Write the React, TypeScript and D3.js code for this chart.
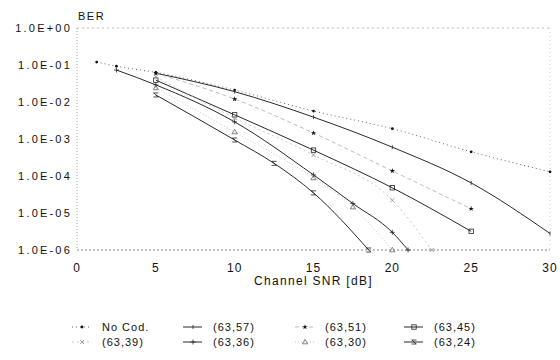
import * as d3 from "d3";

const WIDTH = 560;
const HEIGHT = 360;
const FONT = "'Liberation Sans', Arial, Helvetica, sans-serif";

// plot frame (pixels)
const X0 = 77;
const X1 = 550;
const Y0 = 250;
const Y1 = 28;

const xTicks = [0, 5, 10, 15, 20, 25, 30];
const yTicks = [1, 1e-1, 1e-2, 1e-3, 1e-4, 1e-5, 1e-6];
const yTickLabels = ["1.0E+00", "1.0E-01", "1.0E-02", "1.0E-03", "1.0E-04", "1.0E-05", "1.0E-06"];

const seriesNames = ["No Cod.", "(63,57)", "(63,51)", "(63,45)", "(63,39)", "(63,36)", "(63,30)", "(63,24)"];

// values (SNR in dB, BER)
const noCodSnr = [1.25, 2.5, 5, 10, 15, 20, 25, 30];
const noCodBer = [0.12, 0.093, 0.063, 0.021, 5.7e-3, 1.9e-3, 4.5e-4, 1.3e-4];

const c57Snr = [5, 10, 15, 20, 25, 30];
const c57Ber = [0.06, 0.019, 3.9e-3, 6e-4, 6.5e-5, 2.8e-6];

const c51Snr = [5, 10, 15, 20, 25];
const c51Ber = [0.06, 0.012, 1.45e-3, 1.37e-4, 1.3e-5];

const c45Snr = [5, 10, 15, 20, 25];
const c45Ber = [0.039, 4.5e-3, 5e-4, 4.8e-5, 3.2e-6];

const c39Snr = [5, 10, 15, 20, 22.5];
const c39Ber = [0.048, 3.7e-3, 3.7e-4, 2.2e-5, 1e-6];

const c36Snr = [2.5, 5, 10, 15, 17.5, 20, 21];
const c36Ber = [0.073, 0.029, 2.9e-3, 1.07e-4, 1.8e-5, 3e-6, 1e-6];

const c30Snr = [5, 10, 15, 17.5, 20];
const c30Ber = [0.024, 1.55e-3, 8.9e-5, 1.45e-5, 1e-6];

const c24Snr = [5, 10, 12.5, 15, 18.5];
const c24Ber = [0.0155, 9.4e-4, 2.2e-4, 3.5e-5, 1e-6];

const seriesSnr = [noCodSnr, c57Snr, c51Snr, c45Snr, c39Snr, c36Snr, c30Snr, c24Snr];
const seriesBer = [noCodBer, c57Ber, c51Ber, c45Ber, c39Ber, c36Ber, c30Ber, c24Ber];

// drawing style per series (same order as names)
const styles = [
  { stroke: "#555", dash: "1,3", width: 0.9, marker: "dot" },
  { stroke: "#111", dash: null, width: 0.9, marker: "tick" },
  { stroke: "#aaa", dash: "4,3", width: 0.8, marker: "star" },
  { stroke: "#111", dash: null, width: 0.9, marker: "square" },
  { stroke: "#bbb", dash: "2,3", width: 0.8, marker: "xmark" },
  { stroke: "#111", dash: null, width: 0.9, marker: "cross" },
  { stroke: "#bbb", dash: "1,2", width: 0.8, marker: "triangle" },
  { stroke: "#111", dash: null, width: 0.9, marker: "boxx" },
];

function Marker({ kind, x, y }: { kind: string; x: number; y: number }) {
  const s = 2.2;
  const common = { fill: "none", stroke: "#222", strokeWidth: 0.8 };
  switch (kind) {
    case "dot":
      return <circle cx={x} cy={y} r={1.4} fill="#111" />;
    case "tick":
      return <line x1={x} x2={x} y1={y - 2} y2={y + 2} {...common} />;
    case "star":
      return (
        <path
          transform={`translate(${x},${y})`}
          d={d3.symbol(d3.symbolStar, 9)() as string}
          fill="#111"
        />
      );
    case "square":
      return <rect x={x - s} y={y - s} width={2 * s} height={2 * s} {...common} />;
    case "xmark":
      return (
        <path d={`M${x - 2},${y - 2}L${x + 2},${y + 2}M${x - 2},${y + 2}L${x + 2},${y - 2}`} {...common} stroke="#888" />
      );
    case "cross":
      return <path d={`M${x - 2.5},${y}L${x + 2.5},${y}M${x},${y - 2.5}L${x},${y + 2.5}`} {...common} />;
    case "triangle":
      return <path d={`M${x},${y - 2.6}L${x + 2.6},${y + 1.8}L${x - 2.6},${y + 1.8}Z`} {...common} stroke="#666" />;
    case "boxx":
      return (
        <path
          d={`M${x - 2.5},${y - 2}L${x + 2.5},${y - 2}M${x - 2.5},${y + 2}L${x + 2.5},${y + 2}M${x - 2},${y - 2}L${x + 2},${y + 2}`}
          {...common}
        />
      );
    default:
      return null;
  }
}

export default function App() {
  const x = d3.scaleLinear().domain([0, 30]).range([X0, X1]);
  const y = d3.scaleLog().domain([1e-6, 1]).range([Y0, Y1]);

  const line = d3
    .line<[number, number]>()
    .x((d) => x(d[0]))
    .y((d) => y(d[1]))
    .curve(d3.curveMonotoneX);

  const legendColX = [72, 183, 295, 404];
  const legendRowY = [327, 342];

  return (
    <svg
      width={WIDTH}
      height={HEIGHT}
      style={{ position: "absolute", left: 0, top: 0, background: "#fff" }}
      fontFamily={FONT}
    >
      {/* frame, dotted like the scan */}
      <line x1={X0} x2={X0} y1={Y1} y2={Y0} stroke="#888" strokeWidth={0.8} strokeDasharray="1,2" />
      <line x1={X0} x2={X1} y1={Y0} y2={Y0} stroke="#777" strokeWidth={0.9} strokeDasharray="2,2" />
      <line x1={X0} x2={X1} y1={Y1} y2={Y1} stroke="#aaa" strokeWidth={0.8} strokeDasharray="2,3" />
      <line x1={X1} x2={X1} y1={Y1} y2={Y0} stroke="#bbb" strokeWidth={0.8} strokeDasharray="1,3" />

      {/* y ticks */}
      {yTicks.map((t, i) => (
        <text
          key={t}
          x={72}
          y={y(t)}
          dy="0.35em"
          textAnchor="end"
          fontSize={11}
          letterSpacing={2.2}
          fill="#111"
        >
          {yTickLabels[i]}
        </text>
      ))}
      <text x={78} y={20} fontSize={11} letterSpacing={1.5} fill="#111">
        BER
      </text>

      {/* x ticks */}
      {xTicks.map((t) => (
        <text key={t} x={x(t)} y={272} textAnchor="middle" fontSize={12} letterSpacing={1} fill="#111">
          {t}
        </text>
      ))}
      <text x={x(15)} y={285} textAnchor="middle" fontSize={12} letterSpacing={1.3} fill="#111">
        Channel SNR [dB]
      </text>

      {/* curves */}
      {seriesNames.map((name, i) => {
        const pts = seriesSnr[i].map((s, j) => [s, seriesBer[i][j]] as [number, number]);
        const st = styles[i];
        return (
          <g key={name}>
            <path
              d={line(pts) as string}
              fill="none"
              stroke={st.stroke}
              strokeWidth={st.width}
              strokeDasharray={st.dash ?? undefined}
            />
            {pts.map((p, j) => (
              <Marker key={j} kind={st.marker} x={x(p[0])} y={y(p[1])} />
            ))}
          </g>
        );
      })}

      {/* legend */}
      {seriesNames.map((name, i) => {
        const col = i % 4;
        const row = Math.floor(i / 4);
        const lx = legendColX[col];
        const ly = legendRowY[row];
        const st = styles[i];
        return (
          <g key={name}>
            <line
              x1={lx}
              x2={lx + 19}
              y1={ly}
              y2={ly}
              stroke={st.stroke}
              strokeWidth={st.width}
              strokeDasharray={st.dash ?? undefined}
            />
            <Marker kind={st.marker} x={lx + 10} y={ly} />
            <text x={lx + 30} y={ly} dy="0.35em" fontSize={11} letterSpacing={1} fill="#111">
              {name}
            </text>
          </g>
        );
      })}
    </svg>
  );
}
